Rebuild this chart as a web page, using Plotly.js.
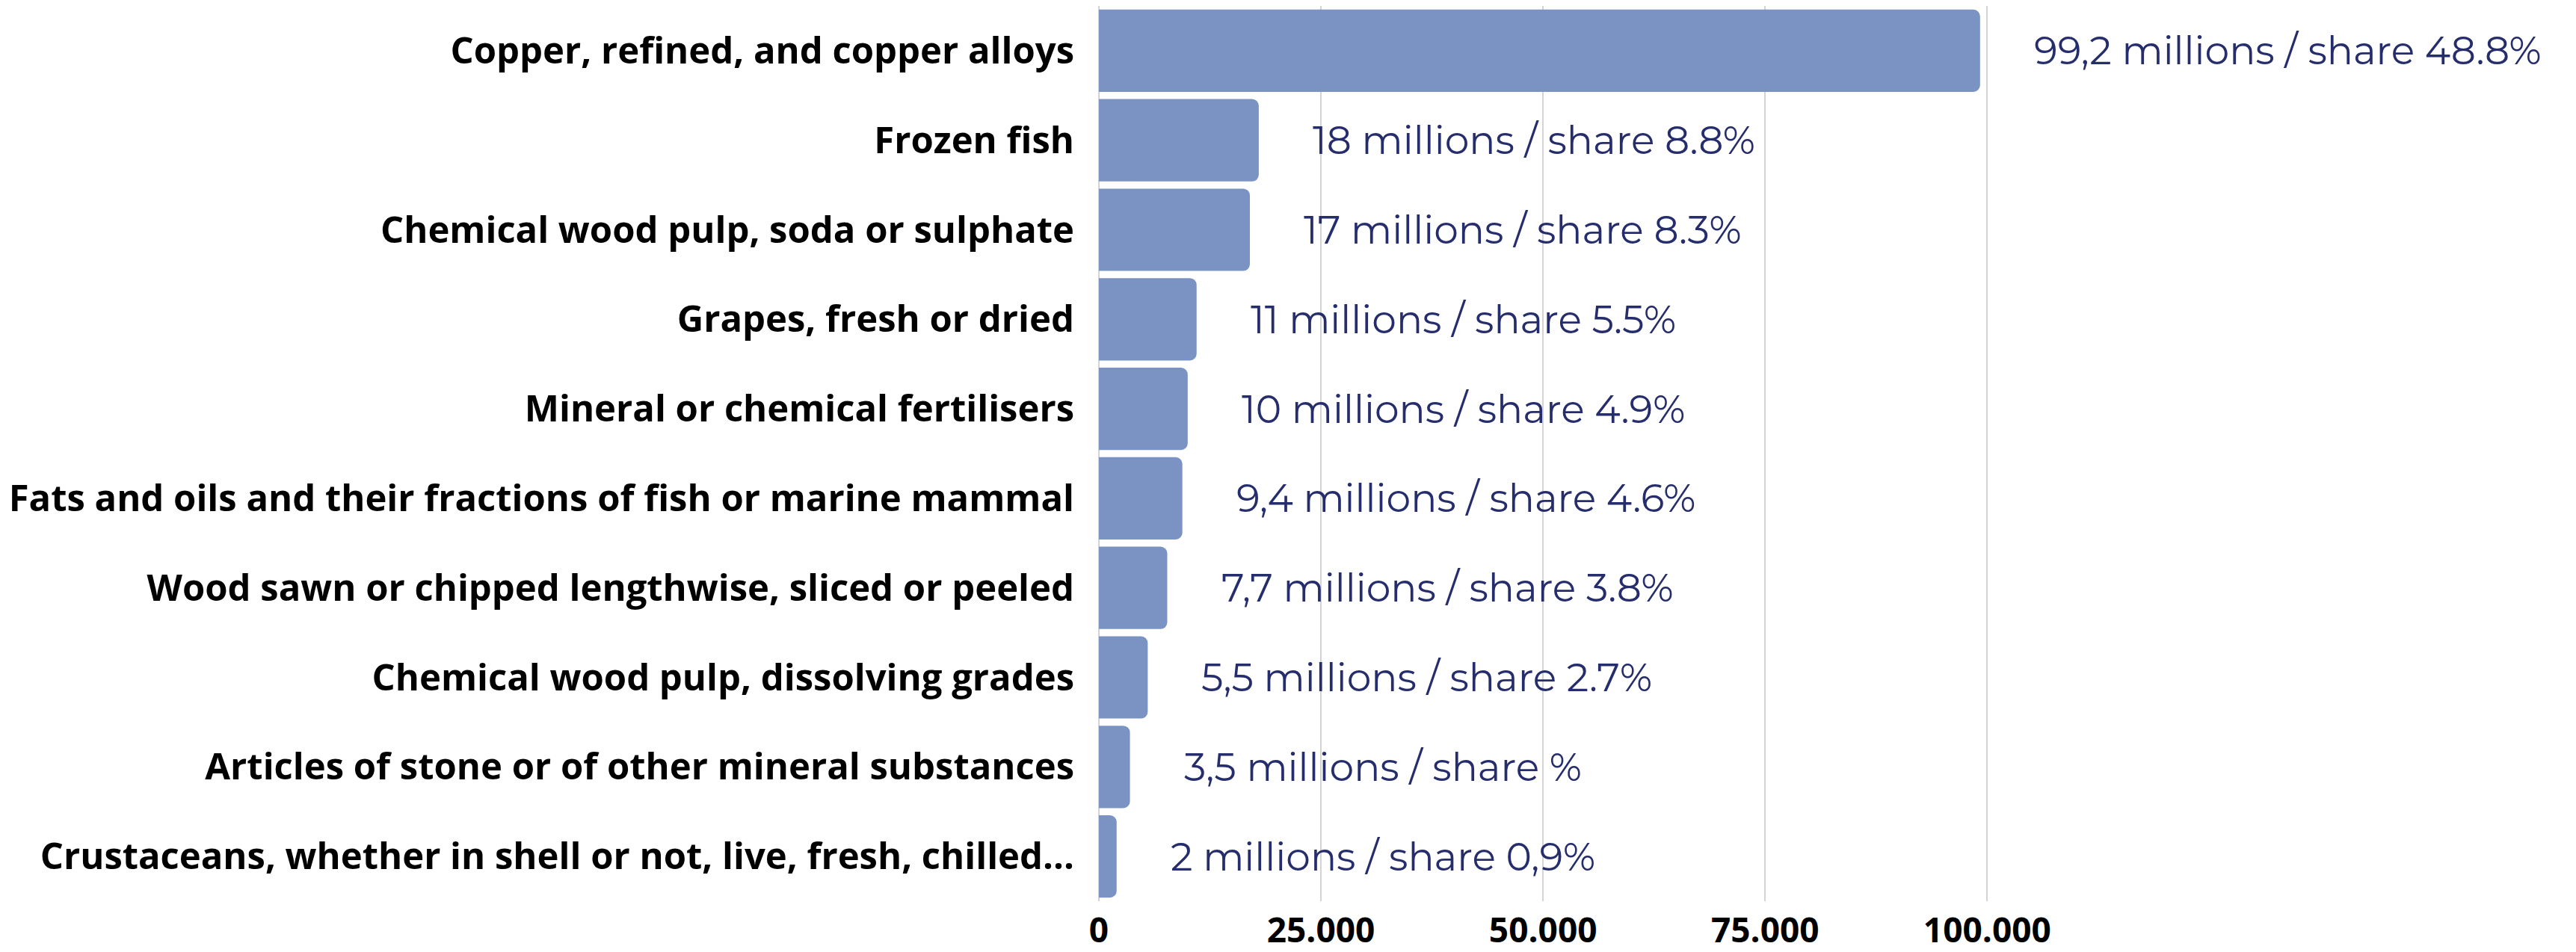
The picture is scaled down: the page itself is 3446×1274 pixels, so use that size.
<!DOCTYPE html>
<html>
<head>
<meta charset="utf-8">
<script src="https://cdn.plot.ly/plotly-3.0.1.min.js"></script>
<style>html,body{margin:0;padding:0;background:#fff;}#chart{width:3446px;height:1274px;}</style>
</head>
<body>
<div id="chart"></div>
<script>
const categories = [
  "Copper, refined, and copper alloys",
  "Frozen fish",
  "Chemical wood pulp, soda or sulphate",
  "Grapes, fresh or dried",
  "Mineral or chemical fertilisers",
  "Fats and oils and their fractions of fish or marine mammal",
  "Wood sawn or chipped lengthwise, sliced or peeled",
  "Chemical wood pulp, dissolving grades",
  "Articles of stone or of other mineral substances",
  "Crustaceans, whether in shell or not, live, fresh, chilled..."
];
const values = [99200, 18000, 17000, 11000, 10000, 9400, 7700, 5500, 3500, 2000];
const valueLabels = [
  "99,2 millions / share 48.8%",
  "18 millions / share 8.8%",
  "17 millions / share 8.3%",
  "11 millions / share 5.5%",
  "10 millions / share 4.9%",
  "9,4 millions / share 4.6%",
  "7,7 millions / share 3.8%",
  "5,5 millions / share 2.7%",
  "3,5 millions / share %",
  "2 millions / share 0,9%"
];
const tickValues = [0, 25000, 50000, 75000, 100000];

const trace = {
  type: 'bar',
  orientation: 'h',
  y: categories,
  x: values,
  marker: { color: '#7b93c3', cornerradius: 9 },
  hoverinfo: 'none'
};

const annotations = categories.map((c, i) => ({
  x: values[i], y: c, xref: 'x', yref: 'y',
  text: valueLabels[i], showarrow: false,
  xanchor: 'left', yanchor: 'middle', xshift: 70,
  font: { family: 'Montserrat, Inter, sans-serif', size: 52, color: '#262d6c', weight: 400 }
}));

const layout = {
  width: 3446, height: 1274,
  margin: { l: 1470, r: 550, t: 8, b: 68 },
  paper_bgcolor: '#ffffff', plot_bgcolor: '#ffffff',
  separators: ',.',
  bargap: 0.08,
  showlegend: false,
  xaxis: {
    range: [0, 120000],
    tickvals: tickValues,
    tickformat: ',',
    showgrid: true, gridcolor: '#d4d4d4', gridwidth: 2,
    zeroline: true, zerolinecolor: '#d4d4d4', zerolinewidth: 2,
    showline: false, ticks: '',
    ticklabelstandoff: 8,
    tickfont: { family: 'Open Sans, sans-serif', size: 46, color: '#000000', weight: 700 },
    fixedrange: true
  },
  yaxis: {
    autorange: 'reversed',
    showgrid: false, zeroline: false, showline: false, ticks: '',
    ticklabelstandoff: 32,
    tickfont: { family: 'Open Sans, sans-serif', size: 49, color: '#000000', weight: 700 },
    fixedrange: true
  },
  annotations: annotations
};

Plotly.newPlot('chart', [trace], layout, { staticPlot: true, displayModeBar: false });
</script>
</body>
</html>
